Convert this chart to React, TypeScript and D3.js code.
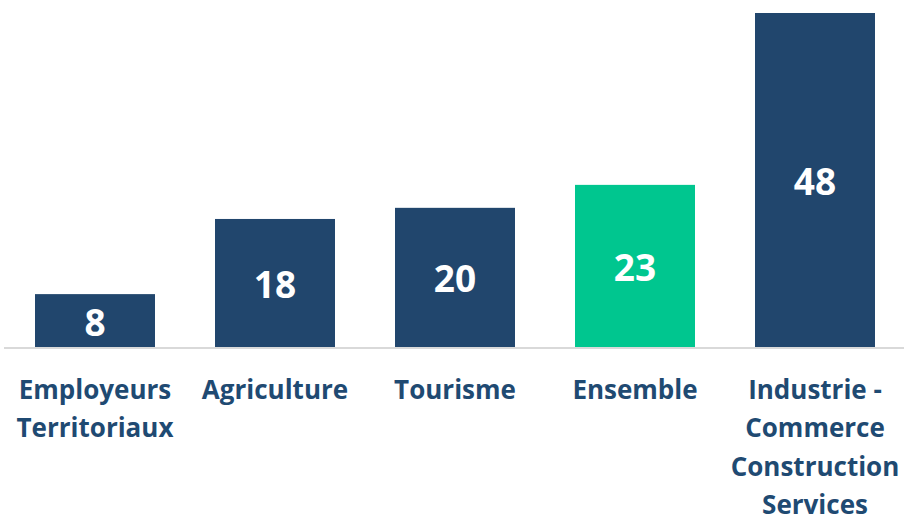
import React from "react";
import * as d3 from "d3";

const categories: string[][] = [
  ["Employeurs", "Territoriaux"],
  ["Agriculture"],
  ["Tourisme"],
  ["Ensemble"],
  ["Industrie -", "Commerce", "Construction", "Services"],
];
const values: number[] = [7.6, 18.4, 20.0, 23.3, 48.0];
const highlight: boolean[] = [false, false, false, true, false];

const W = 904;
const H = 517;
const FONT = "'Open Sans', 'Liberation Sans', sans-serif";

export default function App() {
  const ids = categories.map((_, i) => String(i));
  const x = d3.scaleBand<string>().domain(ids).range([5, 905]).paddingInner(1 / 3).paddingOuter(1 / 6);
  const y = d3.scaleLinear().domain([0, 48]).range([347, 13]);
  const fmt = d3.format(".0f");
  return (
    <div style={{ position: "absolute", left: 0, top: 0 }}>
      <svg width={W} height={H} style={{ display: "block" }}>
        <rect width={W} height={H} fill="#ffffff" />
        {values.map((v, i) => {
          const x0 = x(String(i))!;
          const y0 = y(v);
          const h = y(0) - y0;
          return (
            <g key={i}>
              <rect x={x0} y={y0} width={x.bandwidth()} height={h} fill={highlight[i] ? "#00c68f" : "#21466d"} />
              <text
                x={x0 + x.bandwidth() / 2}
                y={y0 + h / 2 + 15}
                textAnchor="middle"
                fill="#ffffff"
                fontFamily={FONT}
                fontWeight={700}
                fontSize={37}
              >
                {fmt(v)}
              </text>
            </g>
          );
        })}
        <line x1={4} x2={904} y1={348} y2={348} stroke="#d9d9d9" strokeWidth={2} />
        {categories.map((lines, i) => (
          <text
            key={i}
            textAnchor="middle"
            fill="#1f4a72"
            fontFamily={FONT}
            fontWeight={700}
            fontSize={26}
          >
            {lines.map((l, j) => (
              <tspan key={j} x={x(String(i))! + x.bandwidth() / 2} y={399 + j * 38.3}>
                {l}
              </tspan>
            ))}
          </text>
        ))}
      </svg>
    </div>
  );
}
